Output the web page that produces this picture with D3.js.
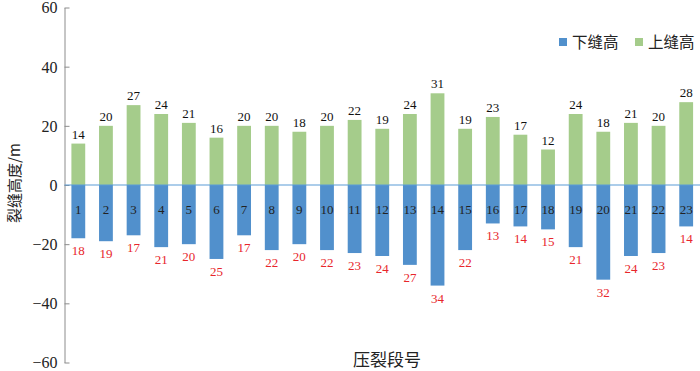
<!DOCTYPE html>
<html><head><meta charset="utf-8">
<script src="https://cdn.jsdelivr.net/npm/d3@7"></script>
<style>body{margin:0;background:#fff}svg{display:block}</style>
</head><body>
<script>
const categories = d3.range(1, 24).map(String);
const upperHeight = [14,20,27,24,21,16,20,20,18,20,22,19,24,31,19,23,17,12,24,18,21,20,28];
const lowerHeight = [18,19,17,21,20,25,17,22,20,22,23,24,27,34,22,13,14,15,21,32,24,23,14];
const yTicks = [-60,-40,-20,0,20,40,60];
const seriesNames = ["下缝高", "上缝高"];

const W = 700, H = 371;
const serif = "Liberation Serif";
const cjk = "Noto Sans CJK SC";
const green = "#a5cc8b", blue = "#5190cc";

const svg = d3.select("body").append("svg").attr("width", W).attr("height", H);
const x = d3.scaleBand().domain(categories).range([64.5, 700]).paddingInner(0.5).paddingOuter(0.25);
const y = d3.scaleLinear().domain([-60, 60]).range([362.5, 7.5]);

// y axis
const yAxis = d3.axisLeft(y).tickValues(yTicks).tickSizeInner(-5).tickSizeOuter(0)
  .tickFormat(d => d < 0 ? "\u2212" + Math.abs(d) : d);
const ga = svg.append("g").attr("transform", "translate(64.5,0)").call(yAxis)
  .attr("font-family", serif).attr("font-size", 16);
ga.select(".domain").attr("stroke", "#8c8c8c");
ga.selectAll(".tick line").attr("stroke", "#8c8c8c");
ga.selectAll(".tick text").attr("x", -7).attr("dy", "0.34em")
  .style("font-family", serif).style("font-size", "16px").attr("fill", "#222");

// bars
svg.append("g").selectAll("rect").data(categories).join("rect")
  .attr("x", d => x(d)).attr("width", x.bandwidth())
  .attr("y", (d, i) => y(upperHeight[i])).attr("height", (d, i) => y(0) - y(upperHeight[i]))
  .attr("fill", green);
svg.append("g").selectAll("rect").data(categories).join("rect")
  .attr("x", d => x(d)).attr("width", x.bandwidth())
  .attr("y", y(0)).attr("height", (d, i) => y(-lowerHeight[i]) - y(0))
  .attr("fill", blue);

// zero line
svg.append("line").attr("x1", 64.5).attr("x2", 700).attr("y1", y(0)).attr("y2", y(0))
  .attr("stroke", "#5b9bd5").attr("stroke-width", 1.2);

// labels
const cx = d => x(d) + x.bandwidth() / 2;
svg.append("g").selectAll("text").data(categories).join("text")
  .attr("x", cx).attr("y", (d, i) => y(upperHeight[i]) - 5)
  .attr("text-anchor", "middle").style("font-family", serif).style("font-size", "13px").attr("fill", "#111")
  .text((d, i) => upperHeight[i]);
svg.append("g").selectAll("text").data(categories).join("text")
  .attr("x", cx).attr("y", y(0) + 29)
  .attr("text-anchor", "middle").style("font-family", serif).style("font-size", "13px").attr("fill", "#222")
  .text(d => d);
svg.append("g").selectAll("text").data(categories).join("text")
  .attr("x", cx).attr("y", (d, i) => y(-lowerHeight[i]) + 17)
  .attr("text-anchor", "middle").style("font-family", serif).style("font-size", "13px").attr("fill", "#e8262b")
  .text((d, i) => lowerHeight[i]);

// axis titles
svg.append("text").attr("transform", "translate(20,183) rotate(-90)")
  .attr("text-anchor", "middle").style("font-family", cjk).style("font-size", "15px").attr("fill", "#222")
  .text("裂缝高度/m");
svg.append("text").attr("x", 387).attr("y", 366)
  .attr("text-anchor", "middle").style("font-family", cjk).style("font-size", "17px").attr("fill", "#222")
  .text("压裂段号");

// legend
const legend = [{name: seriesNames[0], color: blue, x: 559}, {name: seriesNames[1], color: green, x: 635}];
const lg = svg.append("g").selectAll("g").data(legend).join("g")
  .attr("transform", d => `translate(${d.x},38)`);
lg.append("rect").attr("width", 8).attr("height", 8).attr("fill", d => d.color);
lg.append("text").attr("x", 13).attr("y", 9.5).style("font-family", cjk).style("font-size", "15.5px").attr("fill", "#222")
  .text(d => d.name);
</script>
</body></html>
